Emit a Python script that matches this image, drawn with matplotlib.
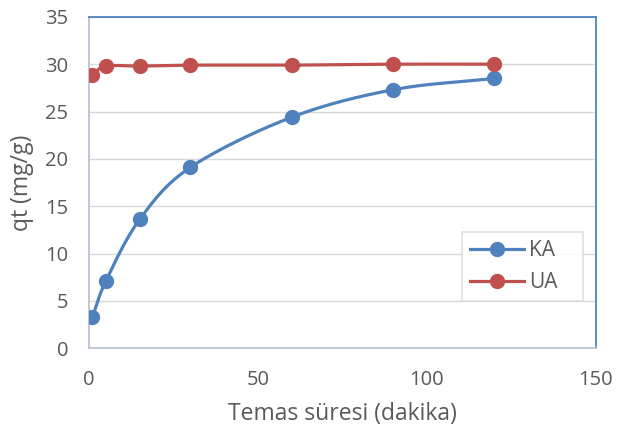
import matplotlib.pyplot as plt
import numpy as np

time_min = [1, 5, 15, 30, 60, 90, 120]
qt_ka = [3.3, 7.1, 13.6, 19.1, 24.4, 27.3, 28.5]
qt_ua = [28.9, 29.8, 29.8, 29.9, 29.9, 30.0, 30.0]
x_ticks = [0, 50, 100, 150]
y_ticks = [0, 5, 10, 15, 20, 25, 30, 35]


def smooth(x, y, n=30):
    # Excel-like smoothed line (Catmull-Rom through the points)
    x = np.asarray(x, float)
    y = np.asarray(y, float)
    px = np.concatenate([[2 * x[0] - x[1]], x, [2 * x[-1] - x[-2]]])
    py = np.concatenate([[2 * y[0] - y[1]], y, [2 * y[-1] - y[-2]]])
    xs, ys = [], []
    t = np.linspace(0, 1, n)
    for i in range(1, len(px) - 2):
        p0, p1, p2, p3 = px[i - 1], px[i], px[i + 1], px[i + 2]
        q0, q1, q2, q3 = py[i - 1], py[i], py[i + 1], py[i + 2]
        # bezier control points
        c1x, c1y = p1 + (p2 - p0) / 6, q1 + (q2 - q0) / 6
        c2x, c2y = p2 - (p3 - p1) / 6, q2 - (q3 - q1) / 6
        bx = (1 - t) ** 3 * p1 + 3 * (1 - t) ** 2 * t * c1x + 3 * (1 - t) * t**2 * c2x + t**3 * p2
        by = (1 - t) ** 3 * q1 + 3 * (1 - t) ** 2 * t * c1y + 3 * (1 - t) * t**2 * c2y + t**3 * q2
        xs.extend(bx)
        ys.extend(by)
    return np.array(xs), np.array(ys)


plt.rcParams["font.family"] = ["Open Sans", "DejaVu Sans"]

fig = plt.figure(figsize=(6.18, 4.32), dpi=100)
ax = fig.add_axes([0.144, 0.194, 0.820, 0.767])

blue = "#4F81BD"
red = "#C0504D"
text_col = "#595959"

for y, col, name in [(qt_ka, blue, "KA"), (qt_ua, red, "UA")]:
    sx, sy = smooth(time_min, y)
    ax.plot(sx, sy, "-", color=col, lw=2.3, solid_capstyle="round", zorder=3)
    ax.plot(time_min, y, "o", color=col, ms=10, zorder=4)
    ax.plot([], [], "-o", color=col, lw=2.3, ms=10, label=name)

ax.set_xlim(0, 150)
ax.set_ylim(0, 35)
ax.set_xticks(x_ticks)
ax.set_yticks(y_ticks)
ax.grid(axis="y", color="#d9d9d9", lw=1.0)
ax.set_axisbelow(True)
ax.tick_params(length=0, labelsize=14.5, labelcolor=text_col)
ax.tick_params(axis="y", pad=15)
ax.tick_params(axis="x", pad=16)

for side in ["left", "bottom"]:
    ax.spines[side].set_color("#b9c3d0")
    ax.spines[side].set_linewidth(1.3)
for side in ["top", "right"]:
    ax.spines[side].set_color(blue)
    ax.spines[side].set_linewidth(1.3)

ax.set_xlabel("Temas süresi (dakika)", fontsize=16.5, color=text_col, labelpad=8)
ax.set_ylabel("qt (mg/g)", fontsize=16.5, color=text_col, labelpad=8)

leg = ax.legend(loc="lower left", bbox_to_anchor=(0.736, 0.142, 0.238, 0.2),
                mode="expand", fontsize=15, frameon=True, fancybox=False,
                handlelength=2.6, labelcolor=text_col, borderpad=0.4,
                handletextpad=0.2, labelspacing=0.5, borderaxespad=0)
leg.get_frame().set_edgecolor("#d9d9d9")
leg.get_frame().set_linewidth(1.2)

fig.savefig("out.png", dpi=100)
